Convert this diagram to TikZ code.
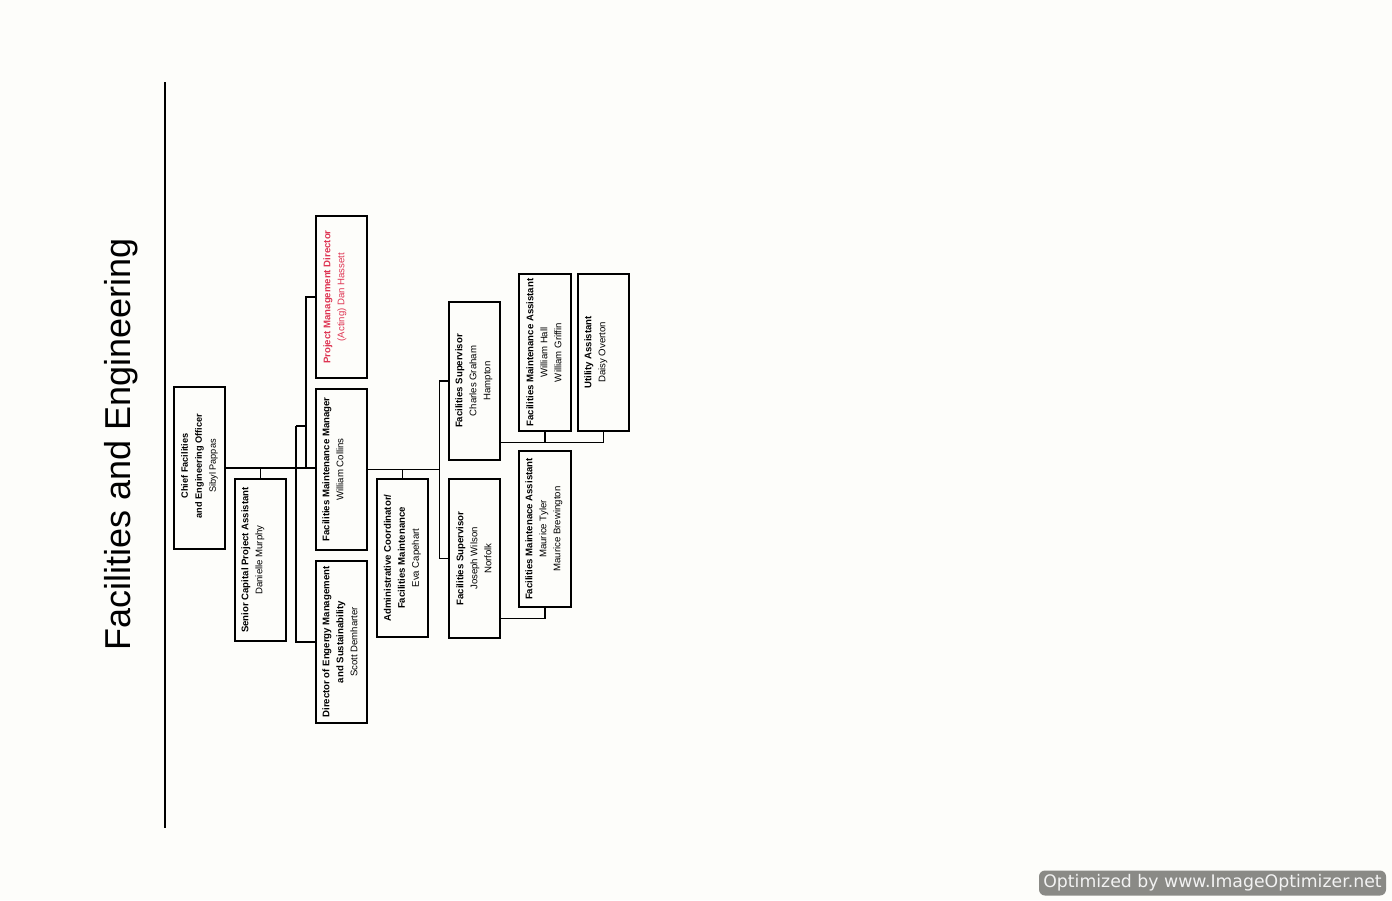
\documentclass[tikz,border=0pt]{standalone}
\usepackage{fontspec}
\setmainfont{Liberation Sans}
\newfontfamily\wmfont{DejaVu Sans}
\definecolor{bgc}{RGB}{253,253,250}
\definecolor{pmdred}{RGB}{222,52,82}
\definecolor{wmgray}{RGB}{138,138,134}
\begin{document}
\begin{tikzpicture}[x=1pt,y=-1pt,
  box/.style={draw=black, line width=1.2pt, inner sep=0pt, minimum width=51pt, minimum height=#1},
  box/.default=162pt,
  txt/.style={rotate=90, align=center, inner sep=0pt, font=\fontsize{9.6}{14}\selectfont},
  conn/.style={draw=black, line width=1.2pt},
]
\fill[bgc] (0,0) rectangle (1392,900);
\useasboundingbox (0,0) rectangle (1392,900);

% title and rule
\node[rotate=90, inner sep=0pt, font=\fontsize{36}{40}\selectfont] (title) at (121,444) {Facilities and Engineering};
\coordinate (ruleTop) at (165,82);
\coordinate (ruleBot) at (165,828);
\draw[line width=2pt] (ruleTop) -- (ruleBot);

% boxes
\node[box=162pt] (chief)   at (199.5,468) {};
\node[box=162pt] (senior)  at (260.5,560) {};
\node[box=162pt] (energy)  at (341.5,642) {};
\node[box=161pt] (fmm)     at (341.5,469.5) {};
\node[box=162pt] (pmd)     at (341.5,297) {};
\node[box=158pt] (admin)   at (402.5,558) {};
\node[box=159pt] (joseph)  at (474.5,558.5) {};
\node[box=158pt] (charles) at (474.5,381) {};
\node[box=156pt, minimum width=52pt] (maurice) at (545,529) {};
\node[box=157pt, minimum width=52pt] (william) at (545,352.5) {};
\node[box=157pt] (utility) at (603.5,352.5) {};

% texts
\node[txt, font=\fontsize{9.2}{14}\selectfont] (chiefT) at (199.5,466) {\textbf{Chief Facilities}\\\textbf{and Engineering Officer}\\Sibyl Pappas};
\node[txt] (seniorT) at (253,560) {\textbf{Senior Capital Project Assistant}\\Danielle Murphy};
\node[txt] (energyT) at (340,642) {\textbf{Director of Engergy Management}\\\textbf{and Sustainability}\\Scott Demharter};
\node[txt] (fmmT) at (333,469.5) {\textbf{Facilities Maintenance Manager}\\William Collins};
\node[txt, text=pmdred] (pmdT) at (335,297) {\textbf{Project Management Director}\\(Acting) Dan Hassett};
\node[txt] (adminT) at (402.5,558) {\textbf{Administrative Coordinator/}\\\textbf{Facilities Maintenance}\\Eva Capehart};
\node[txt] (josephT) at (474,558.5) {\textbf{Facilities Supervisor}\\Joseph Wilson\\Norfolk};
\node[txt] (charlesT) at (474,381) {\textbf{Facilities Supervisor}\\Charles Graham\\Hampton};
\node[txt] (mauriceT) at (544,529) {\textbf{Facilities Maintenace Assistant}\\Maurice Tyler\\Maurice Brewington};
\node[txt] (williamT) at (544,352.5) {\textbf{Facilities Maintenance Assistant}\\William Hall\\William Griffin};
\node[txt] (utilityT) at (596,352.5) {\textbf{Utility Assistant}\\Daisy Overton};

% connectors
\draw[conn] (chief.east) -- (chief.east -| fmm.west);
\draw[conn] (senior.north) -- (senior.north |- chief.east);
\coordinate (busA) at (296,426);
\coordinate (busB) at (306,426);
\draw[conn] (busA) -- (busB);
\draw[conn] (pmd.west) -| (busB) -- (busB |- chief.east);
\draw[conn] (busA) |- (energy.west);
\draw[conn] (fmm.east) -- ++(72,0) coordinate (busC);
\draw[conn] (charles.west) -| (busC) |- (joseph.west);
\draw[conn] (admin.north) -- (admin.north |- fmm.east);
\coordinate (c1) at ([yshift=18pt]charles.south east);
\draw[conn] (c1) -| (utility.south);
\draw[conn] (william.south) -- (william.south |- c1);
\draw[conn] ([yshift=20pt]joseph.south east) -| (maurice.south);

% watermark
\node[fill=wmgray, rounded corners=6pt, minimum width=347pt, minimum height=25pt, inner sep=0pt, text=white!90!gray, font=\wmfont\fontsize{17.3}{19}\selectfont] (wm) at (1212.5,883) {Optimized by www.ImageOptimizer.net};
\end{tikzpicture}
\end{document}
